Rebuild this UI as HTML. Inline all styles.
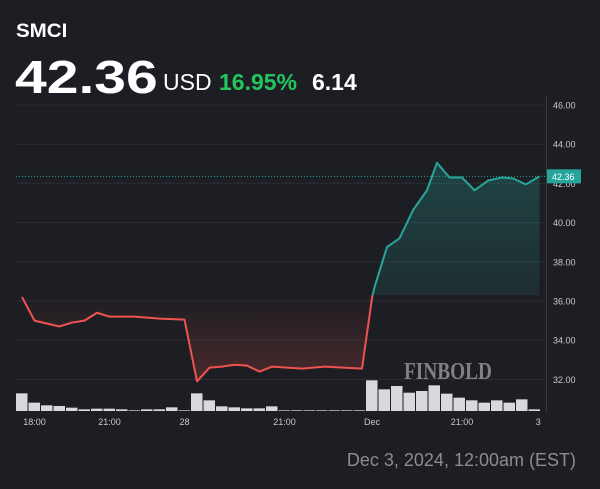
<!DOCTYPE html>
<html><head><meta charset="utf-8"><style>
body{margin:0;width:600px;height:489px;background:#1d1e23;overflow:hidden;font-family:"Liberation Sans",sans-serif}
.t{position:absolute;white-space:nowrap;color:#fff}
</style></head><body>
<div class="t" style="left:16px;top:21px;font-size:19px;font-weight:bold;transform:scaleX(1.08);transform-origin:left">SMCI</div>
<div class="t" style="left:15px;top:50px;font-size:46px;font-weight:bold;transform:scaleX(1.24);transform-origin:left">42.36</div>
<div class="t" style="left:163px;top:69px;font-size:23px">USD</div>
<div class="t" style="left:219px;top:69px;font-size:23px;font-weight:bold;color:#22c55e">16.95%</div>
<div class="t" style="left:312px;top:69px;font-size:23px;font-weight:bold">6.14</div>
<div class="t" style="right:24px;top:450px;font-size:18px;color:#8b8d93">Dec 3, 2024, 12:00am (EST)</div>
<svg id="c" width="600" height="489" style="position:absolute;left:0;top:0"></svg>
<script>
const times=[0,1,3,4,5,6,7,9,11,13,14,15,16,17,18,19,20,22.4,24.2,27.2,28,28.2,29.2,30.2,31.3,32.4,33.2,34.2,35.2,36.2,37.3,38.4,39.3,40.3,41.4];
const prices=[36.2,35.0,34.7,34.9,35.0,35.4,35.2,35.2,35.1,35.05,31.9,32.6,32.65,32.75,32.7,32.4,32.65,32.55,32.65,32.55,36.15,36.7,38.75,39.2,40.65,41.65,43.05,42.3,42.3,41.65,42.15,42.3,42.25,41.95,42.36];
const volumes=[53,25,17,15,10,5,7,7,5,2,5,5,11,2,53,32,14,11,8,8,14,2,2,2,2,2,2,2,92,65,75,55,60,77,52,40,32,25,32,25,35,5];
const yTicks=[46,44,42,40,38,36,34,32];
const xLabels=[{t:1,l:"18:00"},{t:7,l:"21:00"},{t:13,l:"28"},{t:21,l:"21:00"},{t:28,l:"Dec"},{t:35.2,l:"21:00"},{t:41.3,l:"3"}];
const baseline=36.3;
const NS="http://www.w3.org/2000/svg",svg=document.getElementById('c');
const X=t=>22+t*12.5, Y=v=>105+(46-v)*19.6, VY=h=>411-h/3;
function mk(tag,a,p){const e=document.createElementNS(NS,tag);for(const k in a)e.setAttribute(k,a[k]);(p||svg).appendChild(e);return e;}
const defs=mk('defs',{});
defs.innerHTML='<linearGradient id="gg" gradientUnits="userSpaceOnUse" x1="0" y1="160" x2="0" y2="390"><stop offset="0" stop-color="#26a69a" stop-opacity="0.28"/><stop offset="1" stop-color="#26a69a" stop-opacity="0"/></linearGradient><linearGradient id="rg" gradientUnits="userSpaceOnUse" x1="0" y1="'+Y(baseline)+'" x2="0" y2="385"><stop offset="0" stop-color="#ef5350" stop-opacity="0"/><stop offset="1" stop-color="#ef5350" stop-opacity="0.22"/></linearGradient><clipPath id="ca"><rect x="0" y="0" width="600" height="'+Y(baseline)+'"/></clipPath><clipPath id="cb"><rect x="0" y="'+Y(baseline)+'" width="600" height="300"/></clipPath>';
const grid=mk('g',{});
yTicks.forEach(v=>{const l=mk('line',{x1:16,x2:546,y1:Y(v),y2:Y(v),stroke:'#2a2c32','stroke-width':1},grid);
const t=mk('text',{x:553,y:Y(v)+3.5,fill:'#c8cacf','font-size':9,'font-family':'Liberation Sans'});t.textContent=v.toFixed(2);});
mk('line',{x1:546.5,x2:546.5,y1:95,y2:412,stroke:'#3a3c42'});
const vb=mk('g',{});
volumes.forEach((h,i)=>{const r=mk('rect',{x:X(i)-6,y:VY(h),width:11.5,height:h/3,fill:'#d9d9dc'},vb);});
const pts=times.map((t,i)=>X(t)+','+Y(prices[i])).join(' ');
const fx0=X(times[0]),fx1=X(times[times.length-1]);
const gfill=mk('polygon',{points:pts+' '+fx1+','+Y(31)+' '+fx0+','+Y(31),fill:'url(#gg)','clip-path':'url(#ca)'});
const rfill=mk('polygon',{points:pts+' '+fx1+','+Y(baseline)+' '+fx0+','+Y(baseline),fill:'url(#rg)','clip-path':'url(#cb)'});
const lu=mk('polyline',{points:pts,fill:'none',stroke:'#26a69a','stroke-width':2,'clip-path':'url(#ca)','stroke-linejoin':'round'});
const ld=mk('polyline',{points:pts,fill:'none',stroke:'#ef5350','stroke-width':2,'clip-path':'url(#cb)','stroke-linejoin':'round'});
const last=prices[prices.length-1];
const pl=mk('line',{x1:16,x2:546,y1:Y(last),y2:Y(last),stroke:'#26a69a','stroke-width':1,'stroke-dasharray':'1,2'});
const bx=mk('rect',{x:547,y:Y(last)-7,width:34,height:14,fill:'#26a69a'});
const bt=mk('text',{x:552,y:Y(last)+3.5,fill:'#fff','font-size':9,'font-family':'Liberation Sans'});bt.textContent=last.toFixed(2);
xLabels.forEach(o=>{const t=mk('text',{x:X(o.t),y:425,fill:'#c8cacf','font-size':9,'text-anchor':'middle','font-family':'Liberation Sans'});t.textContent=o.l;});
const wm=mk('text',{x:404,y:379,fill:'#9a9a9e','font-size':24,'font-family':'Liberation Serif','font-weight':'bold',opacity:0.8,textLength:88,lengthAdjust:'spacingAndGlyphs'});wm.textContent='FINBOLD';
</script>
</body></html>
